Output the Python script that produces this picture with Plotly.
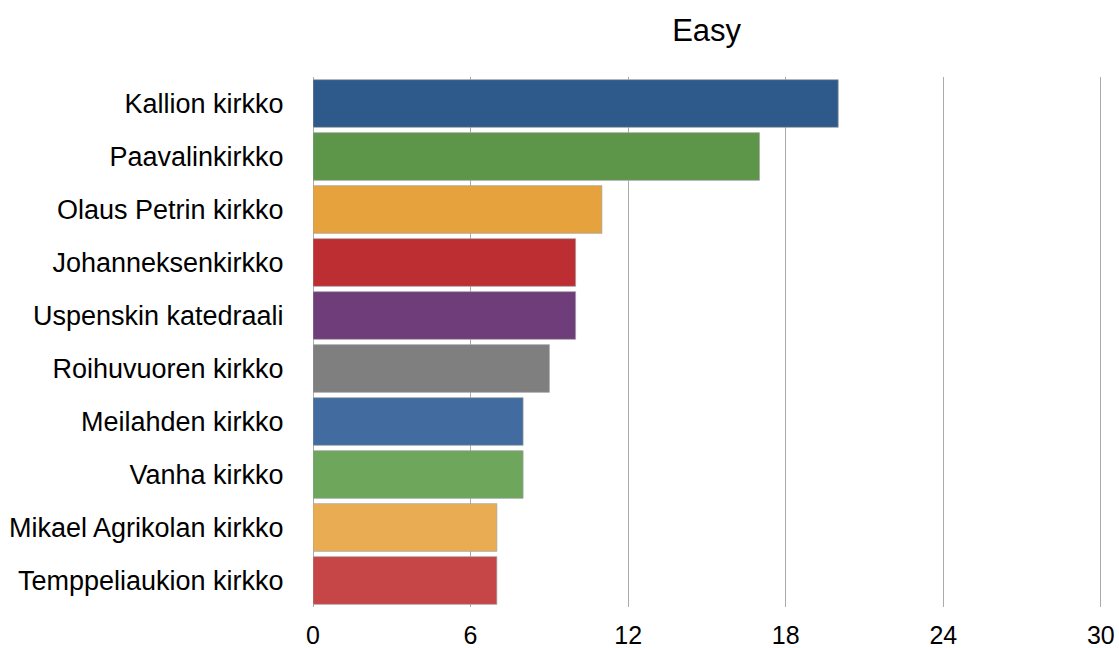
import plotly.graph_objects as go

categories = ["Kallion kirkko", "Paavalinkirkko", "Olaus Petrin kirkko", "Johanneksenkirkko",
              "Uspenskin katedraali", "Roihuvuoren kirkko", "Meilahden kirkko", "Vanha kirkko",
              "Mikael Agrikolan kirkko", "Temppeliaukion kirkko"]
values = [20, 17, 11, 10, 10, 9, 8, 8, 7, 7]
colors = ["#2E5A8B", "#5D9649", "#E6A23C", "#BC2E32", "#6E3D7A",
          "#7F7F7F", "#426C9F", "#6EA75B", "#EAAC53", "#C64547"]
tick_vals = [0, 6, 12, 18, 24, 30]

fig = go.Figure(go.Bar(
    x=values, y=categories, orientation="h",
    marker=dict(color=colors, line=dict(color="rgba(160,160,160,0.7)", width=1)),
))

fig.update_layout(
    width=1119, height=648,
    margin=dict(l=313, r=5, t=77, b=41),
    paper_bgcolor="white", plot_bgcolor="white",
    bargap=0.1,
    showlegend=False,
    font=dict(family="Liberation Sans, Arial, sans-serif", size=20, color="#000"),
    title=dict(text="Easy", x=0.6315, xanchor="center", y=0.953, yanchor="middle",
               font=dict(size=31, color="#000")),
    xaxis=dict(range=[0, 30.5], tickvals=tick_vals, showgrid=True, gridcolor="#ABABAB", gridwidth=1,
               zeroline=True, zerolinecolor="#ABABAB", zerolinewidth=1,
               ticks="outside", ticklen=6, tickcolor="rgba(0,0,0,0)",
               tickfont=dict(size=25), showline=False, automargin=False),
    yaxis=dict(autorange="reversed", ticks="outside", ticklen=23, tickcolor="rgba(0,0,0,0)",
               tickfont=dict(size=27), showgrid=False, showline=False, automargin=False),
)

fig.write_html("out.html")
